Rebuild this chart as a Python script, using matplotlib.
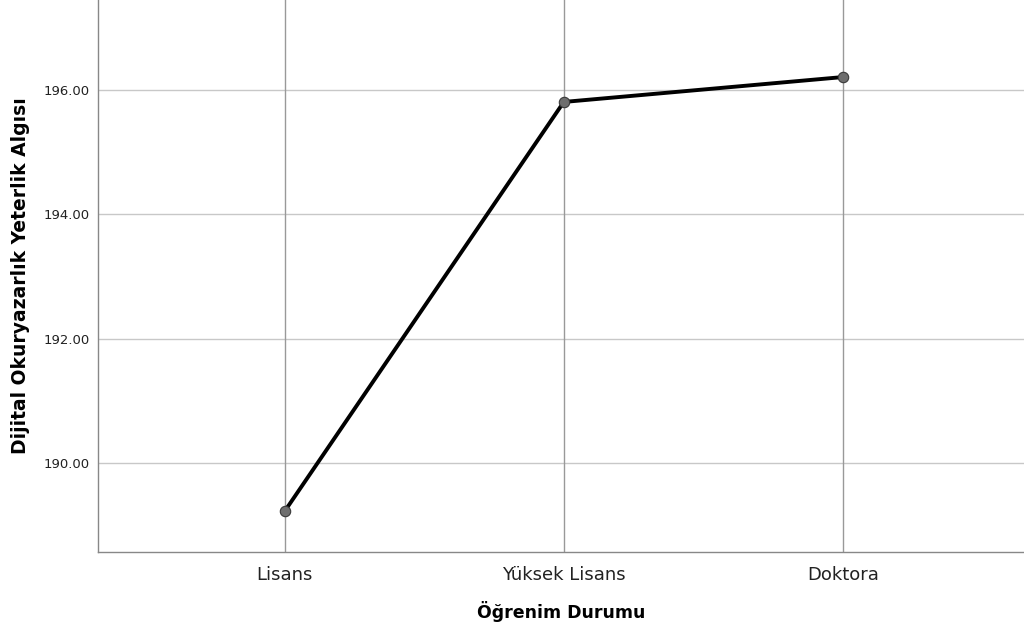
import matplotlib
matplotlib.use("Agg")
import matplotlib.pyplot as plt
from matplotlib.ticker import FormatStrFormatter

# Veriler
kategoriler = ["Lisans", "Yüksek Lisans", "Doktora"]
ortalamalar = [189.23, 195.81, 196.21]
y_ticks = [190, 192, 194, 196]

fig = plt.figure(figsize=(10.24, 6.34), dpi=100)
ax = fig.add_axes([98/1024, 82/634, 926/1024, 552/634])

x = list(range(len(kategoriler)))
ax.plot(x, ortalamalar, color="black", linewidth=2.8, zorder=3,
        marker="o", markersize=7.5, markerfacecolor="#6e6e6e",
        markeredgecolor="#3a3a3a", markeredgewidth=0.8)

ax.set_xlim(-0.67, 2.65)
ax.set_ylim(188.57, 197.45)
ax.set_xticks(x)
ax.set_xticklabels(kategoriler, fontsize=13, color="#222222")
ax.set_yticks(y_ticks)
ax.yaxis.set_major_formatter(FormatStrFormatter("%.2f"))
ax.tick_params(axis="y", labelsize=9.5, length=0, pad=6, colors="#222222")
ax.tick_params(axis="x", length=0, pad=10)

for v in y_ticks:
    ax.axhline(v, color="#c8c8c8", linewidth=1.0, zorder=1)
for v in x:
    ax.axvline(v, color="#999999", linewidth=1.0, zorder=1)

for s in ["top", "right"]:
    ax.spines[s].set_visible(False)
for s in ["left", "bottom"]:
    ax.spines[s].set_color("#888888")
    ax.spines[s].set_linewidth(1.0)

ax.set_xlabel("Öğrenim Durumu", fontsize=12.5, fontweight="bold", labelpad=12)
ax.set_ylabel("Dijital Okuryazarlık Yeterlik Algısı", fontsize=13.5,
              fontweight="bold", labelpad=10)

fig.savefig("out.png", dpi=100)
